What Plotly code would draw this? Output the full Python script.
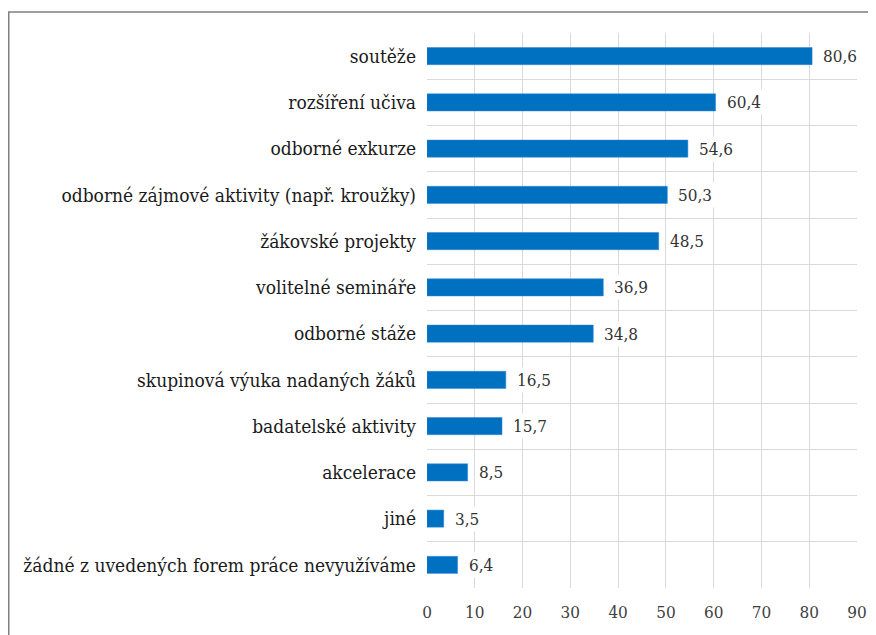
import plotly.graph_objects as go

categories = ['soutěže', 'rozšíření učiva', 'odborné exkurze',
              'odborné zájmové aktivity (např. kroužky)', 'žákovské projekty',
              'volitelné semináře', 'odborné stáže', 'skupinová výuka nadaných žáků',
              'badatelské aktivity', 'akcelerace', 'jiné',
              'žádné z uvedených forem práce nevyužíváme']
values = [80.6, 60.4, 54.6, 50.3, 48.5, 36.9, 34.8, 16.5, 15.7, 8.5, 3.5, 6.4]
x_ticks = [0, 10, 20, 30, 40, 50, 60, 70, 80, 90]

SERIF = 'DejaVu Serif Condensed'
pos = list(range(len(categories)))

fig = go.Figure()
fig.add_trace(go.Bar(x=values, y=pos, orientation='h', width=0.37,
                     marker=dict(color='#0070C0', line=dict(color='#2e86d4', width=0.5)),
                     showlegend=False, hoverinfo='skip'))

for v, p in zip(values, pos):
    fig.add_annotation(x=v, y=p, text=f'{v:.1f}'.replace('.', ','),
                       xanchor='left', showarrow=False, xshift=8,
                       bgcolor='white', borderpad=2,
                       font=dict(family=SERIF, size=17, color='#333333'))

fig.update_yaxes(tickvals=pos, ticktext=categories, autorange=False,
                 range=[len(categories) - 0.5, -0.5], showgrid=False,
                 zeroline=False, ticklabelstandoff=10, automargin=False,
                 tickfont=dict(family=SERIF, size=19, color='#1a1a1a'),
                 minor=dict(tick0=0.5, dtick=1, showgrid=True,
                            gridcolor='#d9d9d9', gridwidth=1))
fig.update_xaxes(range=[0, 90], tickvals=x_ticks, showgrid=True,
                 gridcolor='#d9d9d9', gridwidth=1, zeroline=False,
                 ticklabelstandoff=12, automargin=False,
                 tickfont=dict(family=SERIF, size=17, color='#404040'))

# frame round the chart
fig.add_shape(type='rect', xref='paper', yref='paper',
              x0=-0.9727, x1=1.06, y0=-0.1, y1=1.0378,
              line=dict(color='#7f7f7f', width=1.5), layer='below')

# the page puts the figure 8px in from the top left corner
fig.update_layout(width=868, height=627, plot_bgcolor='white', paper_bgcolor='white',
                  margin=dict(l=419, r=19, t=25, b=47), bargap=0.6)

fig.write_html('out.html')
